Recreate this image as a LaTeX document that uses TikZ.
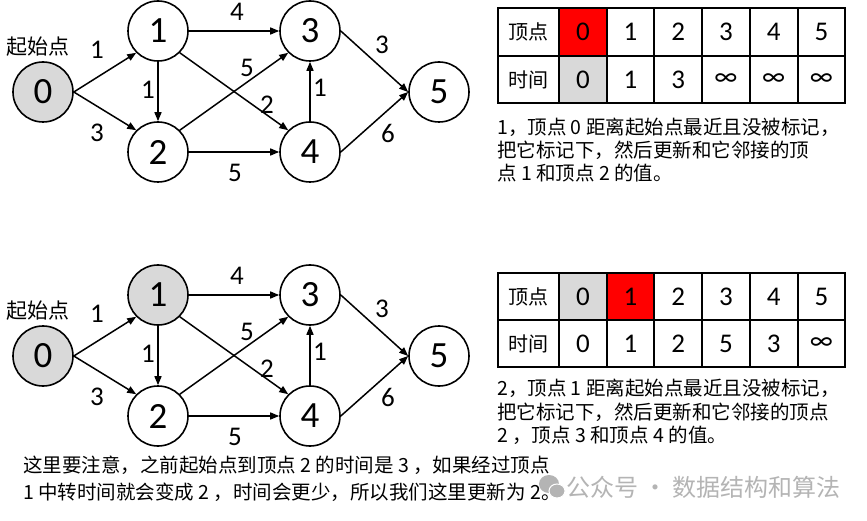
\documentclass[tikz,border=0pt]{standalone}
\usepackage{fontspec}
\setmainfont{Carlito}
\newfontfamily\cjk{Noto Sans CJK SC}
\usetikzlibrary{arrows.meta}
\definecolor{gfill}{HTML}{D9D9D9}
\definecolor{rfill}{HTML}{FF0000}
\definecolor{wmark}{HTML}{B4B4B4}
\tikzset{
  vtx/.style={circle,draw,line width=1.6pt,minimum size=60pt,inner sep=0pt,font=\fontsize{37}{37}\selectfont},
  edge/.style={line width=1.5pt,-{Triangle[length=9pt,width=7pt]}},
  elab/.style={inner sep=0pt,font=\fontsize{27}{27}\selectfont},
  startlab/.style={inner sep=0pt,font=\cjk\fontsize{21}{21}\selectfont},
  hcell/.style={draw,line width=2pt,minimum width=61pt,minimum height=47.5pt,inner sep=0pt,font=\cjk\fontsize{20}{20}\selectfont},
  vcell/.style={draw,line width=2pt,minimum width=47.7pt,minimum height=47.5pt,inner sep=0pt,font=\fontsize{27}{27}\selectfont},
  capline/.style={anchor=west,inner sep=0pt,font=\cjk\fontsize{19.5}{19.5}\selectfont},
  wmtext/.style={anchor=west,inner sep=0pt,text=wmark,font=\cjk\fontsize{24}{24}\selectfont}
}
\newcommand\infsym{∞}
\newcommand\mygraph[3]{%
  \node[vtx,fill=gfill] (#1v0) at (43,92+#2) {0};
  \node[vtx,fill=#3] (#1v1) at (158,31+#2) {1};
  \node[vtx] (#1v2) at (158,152+#2) {2};
  \node[vtx] (#1v3) at (310,31+#2) {3};
  \node[vtx] (#1v4) at (310,152+#2) {4};
  \node[vtx] (#1v5) at (439,92+#2) {5};
  \node[startlab] (#1start) at (38,47+#2) {起始点};
  \draw[edge] (#1v0.east) -- (#1v1.south west);
  \draw[edge] (#1v0.east) -- (#1v2.north west);
  \draw[edge] (#1v1.east) -- (#1v3.west);
  \draw[edge] (#1v1.south) -- (#1v2.north);
  \draw[edge] (#1v1.south east) -- (#1v4.north west);
  \draw[edge] (#1v2.north east) -- (#1v3.south west);
  \draw[edge] (#1v2.east) -- (#1v4.west);
  \draw[edge] (#1v4.north) -- (#1v3.south);
  \draw[edge] (#1v3.east) -- (#1v5.west);
  \draw[edge] (#1v4.east) -- (#1v5.west);
  \node[elab] (#1l01) at (97,50+#2) {1};
  \node[elab] (#1l02) at (97,133+#2) {3};
  \node[elab] (#1l13) at (237,12+#2) {4};
  \node[elab] (#1l12) at (148,90+#2) {1};
  \node[elab] (#1l23) at (247,68+#2) {5};
  \node[elab] (#1l14) at (267,105+#2) {2};
  \node[elab] (#1l43) at (320,88+#2) {1};
  \node[elab] (#1l24) at (235,173+#2) {5};
  \node[elab] (#1l35) at (382,45+#2) {3};
  \node[elab] (#1l45) at (388,133+#2) {6};
}
\newcommand\trow[4]{%
  \node[hcell] (#1h) at (528.5,#2) {#3};
  \foreach \v/\f [count=\i] in {#4} {\node[vcell,fill=\f] (#1c\i) at ({559+47.7*(\i-0.5)},#2) {\v};}
}
\begin{document}
\begin{tikzpicture}[x=1pt,y=-1pt]
\fill[white] (0,0) rectangle (867,521);
\useasboundingbox (0,0) rectangle (867,521);
% top part
\mygraph{a}{0}{white}
\trow{ta}{32}{顶点}{0/rfill,1/white,2/white,3/white,4/white,5/white}
\trow{tb}{79.5}{时间}{0/gfill,1/white,3/white,\infsym/white,\infsym/white,\infsym/white}
\node[capline] (c1) at (497,127) {1，顶点 0 距离起始点最近且没被标记，};
\node[capline] (c2) at (497,150) {把它标记下，然后更新和它邻接的顶};
\node[capline] (c3) at (497,173) {点 1 和顶点 2 的值。};
% bottom part
\mygraph{b}{264}{gfill}
\trow{ba}{296.5}{顶点}{0/gfill,1/rfill,2/white,3/white,4/white,5/white}
\trow{bb}{343.5}{时间}{0/white,1/white,2/white,5/white,3/white,\infsym/white}
\node[capline] (d1) at (497,388) {2，顶点 1 距离起始点最近且没被标记，};
\node[capline] (d2) at (497,412) {把它标记下，然后更新和它邻接的顶点};
\node[capline] (d3) at (497,435) {2 ，顶点 3 和顶点 4 的值。};
% watermark
\fill[wmark] (549,484) ellipse (10 and 9);
\fill[wmark,draw=white,line width=1pt] (557,491) ellipse (8 and 7);
\node[wmtext] (wm) at (566,487) {公众号 · 数据结构和算法};
% note
\node[capline] (n1) at (23,465) {这里要注意，之前起始点到顶点 2 的时间是 3 ，如果经过顶点};
\node[capline] (n2) at (23,492) {1 中转时间就会变成 2 ，时间会更少，所以我们这里更新为 2。};
\end{tikzpicture}
\end{document}
